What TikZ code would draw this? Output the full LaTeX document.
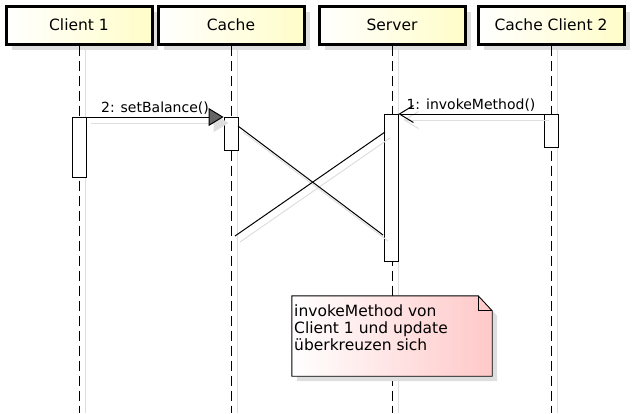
\documentclass[tikz,border=0pt]{standalone}
\usepackage{fontspec}
\setmainfont{DejaVu Sans}
\usetikzlibrary{arrows.meta,shadows}
\definecolor{headyellow}{RGB}{255,253,200}
\definecolor{notepink}{RGB}{255,200,200}
\definecolor{shadowgray}{RGB}{222,222,222}

\begin{document}
\begin{tikzpicture}[x=1pt,y=-1pt,
  participant/.style={draw,line width=3pt,left color=white,right color=headyellow,
    minimum width=146pt,minimum height=38pt,inner sep=0pt,font=\fontsize{15.5}{18}\selectfont,
    drop shadow={shadow xshift=6pt,shadow yshift=-6pt,fill=shadowgray,opacity=1}},
  lifeline/.style={line width=1pt,dash pattern=on 10pt off 5pt},
  lifeshade/.style={draw=shadowgray,line width=1pt,transform canvas={xshift=6pt}},
  activation/.style={draw,fill=white,line width=0.9pt,minimum width=14pt,inner sep=0pt,anchor=north},
  msg/.style={line width=1pt},
  msgshade/.style={draw=shadowgray,line width=1pt,transform canvas={shift={(5pt,-6pt)}}},
  msglabel/.style={font=\fontsize{14}{16}\selectfont,inner sep=2pt}
]
\useasboundingbox (0,0) rectangle (638,413);
\coordinate (bottom) at (0,413);

\node[participant] (client) at (79,25) {Client 1};
\node[participant] (cache) at (231,25) {Cache};
\node[participant] (server) at (392,25) {Server};
\node[participant] (cclient) at (551,25) {Cache Client 2};

\draw[lifeshade] (client.south) -- (client.south |- bottom);
\draw[lifeshade] (cache.south) -- (cache.south |- bottom);
\draw[lifeshade] (server.south) -- (server.south |- bottom);
\draw[lifeshade] (cclient.south) -- (cclient.south |- bottom);
\draw[lifeline] (client.south) -- (client.south |- bottom);
\draw[lifeline] (cache.south) -- (cache.south |- bottom);
\draw[lifeline] (server.south) -- (server.south |- bottom);
\draw[lifeline] (cclient.south) -- (cclient.south |- bottom);

\node[activation,minimum height=60pt] (actclient) at (79,117) {};
\node[activation,minimum height=33pt] (actcache) at (231,117) {};
\node[activation,minimum height=147pt] (actserver) at (391,114) {};
\node[activation,minimum height=33pt] (actcclient) at (551,114) {};

\draw[msgshade,-{Triangle[length=15pt,width=18pt,fill=shadowgray]}] (actclient.north east) -- (actcache.north west);
\draw[msg,-{Triangle[length=15pt,width=18pt,fill=black!60]}] (actclient.north east) -- node[msglabel,above] (setbal) {2: setBalance()} (actcache.north west);

\draw[msgshade,-{Straight Barb[length=14pt,width=17pt]}] (actcclient.north west) -- (actserver.north east);
\draw[msg,-{Straight Barb[length=14pt,width=17pt]}] (actcclient.north west) -- node[msglabel,above] (invoke) {1: invokeMethod()} (actserver.north east);

\coordinate (updfrom) at (238,126);
\coordinate (updto) at (383,235);
\coordinate (invfrom) at (385,132);
\coordinate (invto) at (235,236);
\draw[msgshade] (updfrom) -- (updto);
\draw[msgshade] (invfrom) -- (invto);
\draw[msg] (updfrom) -- (updto);
\draw[msg] (invfrom) -- (invto);

\node[minimum width=200pt,minimum height=80pt,inner sep=0pt] (note) at (392,336) {};
\fill[shadowgray,transform canvas={shift={(5pt,-5pt)}}] (note.north west) -- ([xshift=-14pt]note.north east)
  -- ([yshift=-15pt]note.north east) -- (note.south east) -- (note.south west) -- cycle;
\path[draw,line width=0.9pt,left color=white,right color=notepink] (note.north west) -- ([xshift=-14pt]note.north east)
  -- ([yshift=-15pt]note.north east) -- (note.south east) -- (note.south west) -- cycle;
\draw[line width=0.9pt] ([xshift=-14pt]note.north east) -- ([xshift=-14pt,yshift=-15pt]note.north east) -- ([yshift=-15pt]note.north east);
\node[anchor=north west,inner sep=0pt,align=left,font=\fontsize{15.5}{17}\selectfont] (notetext) at (294,305)
  {invokeMethod von\\Client 1 und update\\überkreuzen sich};
\end{tikzpicture}
\end{document}
